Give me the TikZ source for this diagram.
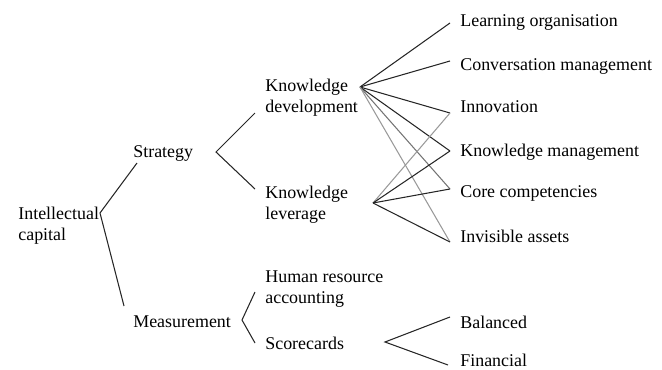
\documentclass[tikz,border=0pt]{standalone}
\usepackage{fontspec}
\setmainfont{Liberation Serif}
\usepackage{tikz}

\begin{document}
\begin{tikzpicture}[
    every node/.style={inner sep=0pt, align=left, anchor=west, font=\fontsize{10.2}{12}\selectfont},
    link/.style={line width=0.6pt, black!85},
    faint/.style={line width=0.6pt, black!40}]
    \useasboundingbox (0,0) rectangle (13.24,7.38);

    % labels
    \node (ic) at (0.36, 2.86) {Intellectual\\capital};
    \node (strat) at (2.66, 4.32) {Strategy};
    \node (meas) at (2.66, 0.94) {Measurement};
    \node (kdev) at (5.30, 5.42) {Knowledge\\development};
    \node (klev) at (5.30, 3.28) {Knowledge\\leverage};
    \node (hra) at (5.30, 1.60) {Human resource\\accounting};
    \node (score) at (5.30, 0.52) {Scorecards};
    \node (learn) at (9.20, 6.94) {Learning organisation};
    \node (conv) at (9.20, 6.06) {Conversation management};
    \node (innov) at (9.20, 5.24) {Innovation};
    \node (kman) at (9.20, 4.34) {Knowledge management};
    \node (core) at (9.20, 3.52) {Core competencies};
    \node (invis) at (9.20, 2.66) {Invisible assets};
    \node (bal) at (9.20, 0.94) {Balanced};
    \node (fin) at (9.20, 0.18) {Financial};

    % branch points
    \coordinate (ic-r) at (2.00, 3.12);
    \coordinate (strat-in) at (2.74, 4.12);
    \coordinate (meas-in) at (2.48, 1.26);
    \coordinate (strat-r) at (4.32, 4.34);
    \coordinate (kdev-in) at (5.10, 5.12);
    \coordinate (klev-in) at (5.10, 3.60);
    \coordinate (meas-r) at (4.84, 0.98);
    \coordinate (hra-in) at (5.10, 1.54);
    \coordinate (score-in) at (5.10, 0.52);
    \coordinate (kdev-r) at (7.20, 5.64);
    \coordinate (klev-r) at (7.46, 3.32);
    \coordinate (score-r) at (7.70, 0.54);
    \coordinate (learn-in) at (9.00, 6.92);
    \coordinate (conv-in) at (9.00, 6.16);
    \coordinate (innov-in) at (9.00, 5.12);
    \coordinate (kman-in) at (9.00, 4.36);
    \coordinate (core-in) at (9.00, 3.60);
    \coordinate (invis-in) at (9.00, 2.54);
    \coordinate (bal-in) at (9.00, 1.04);
    \coordinate (fin-in) at (8.96, 0.08);

    % tree
    \draw[link] (strat-in) -- (ic-r) -- (meas-in);
    \draw[link] (kdev-in) -- (strat-r) -- (klev-in);
    \draw[link] (hra-in) -- (meas-r) -- (score-in);
    \draw[link] (bal-in) -- (score-r) -- (fin-in);

    % development links
    \foreach \t in {learn, conv, innov, kman}
        \draw[link] (kdev-r) -- (\t-in);
    \draw[faint, black!55] (kdev-r) -- (core-in);
    \draw[faint] (kdev-r) -- (invis-in);

    % leverage links
    \draw[faint] (klev-r) -- (innov-in);
    \foreach \t in {kman, core, invis}
        \draw[link] (klev-r) -- (\t-in);
\end{tikzpicture}
\end{document}
